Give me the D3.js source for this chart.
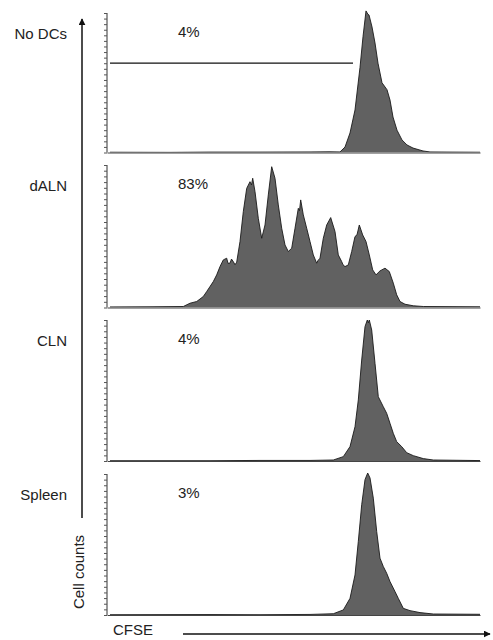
<!DOCTYPE html>
<html><head><meta charset="utf-8">
<script src="https://cdn.jsdelivr.net/npm/d3@7"></script>
<style>
html,body{margin:0;padding:0;background:#fff;}
text{font-family:"Liberation Sans",Arial,Helvetica,sans-serif;fill:#222;}
</style></head>
<body>
<svg id="c" width="493" height="640"></svg>
<script>
// ---------- DATA ----------
const samples = ["No DCs", "dALN", "CLN", "Spleen"];
const percents = ["4%", "83%", "4%", "3%"];
// CFSE channel (0-370) vs relative cell count (0-100)
const noDCs = [[0,0.2],[60,0.1],[100,0.3],[150,0.3],[200,0.4],[220,0.5],[230,0.4],[235,3.9],[240,14],[245,30.5],[250,61],[253,83],[256,101.5],[258,99],[259,98.6],[262,90],[265,78.5],[268,64],[272,50],[277,45],[280,37.6],[283,25.4],[287,16],[292,9],[297,5.4],[303,3.2],[313,1.1],[320,0.4],[340,0.3],[370,0.2]];
const dALN = [[0,0.4],[40,0.5],[73.3,0.7],[80,3.0],[86.7,4.2],[93.3,7.7],[96.7,11.2],[100,14.7],[103.3,18.2],[106.7,22.9],[110,28.7],[113.3,33.4],[116.7,34.6],[118,31],[120,31.1],[121.5,34],[123.3,32.2],[125,30],[126.7,31.8],[130,46.3],[133.3,67.3],[136.7,83.6],[140,88.3],[141.5,86],[142.7,90.7],[145,81.3],[148.3,62.6],[151.7,48.6],[155,57.9],[158.3,79],[161.7,98.8],[165,90.7],[168.3,72],[171.7,55.6],[175,43.9],[178.3,39.3],[181.7,41.6],[185,55.6],[188.3,69.6],[189.5,68],[190.7,75.5],[193.3,65],[196.7,55.6],[200,46.3],[203.3,36.9],[206.7,31.1],[208,33],[210,34.6],[213.3,48.6],[216.7,57.9],[220.7,63.1],[225,53.3],[228.3,36.9],[231.7,32.2],[233,30],[235,28.7],[238.3,29.9],[241.7,39.3],[245,49.8],[247,51],[249.3,57.9],[252.7,50.9],[256,46.3],[259.3,36.9],[262.7,26.4],[266,22.9],[270,25.7],[275,27.6],[279.3,25.2],[283.3,17.1],[286.7,8.9],[290,4.2],[295,2.3],[303.3,1.2],[313.3,0.7],[370,0.5]];
const cln = [[0,0.2],[100,0.2],[150,0.4],[200,0.4],[223.3,0.7],[233.3,3.1],[240,10.2],[245,24.3],[248.3,43.3],[251.7,71.6],[255,95.3],[257.3,100],[258.3,98],[259.3,100],[261.7,92.9],[265,69.3],[268.3,45.6],[273.3,38.5],[276.7,33.8],[280,26.7],[283.3,19.6],[286.7,13.7],[291.7,10.2],[296.7,5.9],[303.3,3.8],[313.3,1.7],[323.3,0.7],[370,0.3]];
const spleen = [[0,0.2],[100,0.3],[150,0.2],[200,0.4],[223.3,0.9],[233.3,3.6],[240,11.8],[245,28.4],[248.3,52.1],[251.7,78.2],[255,96],[257.7,100.7],[260,97.2],[263.3,82.9],[266.7,59.2],[270,40.3],[273.3,34.4],[276.7,29.6],[280,23.7],[285,16.6],[288.3,11.8],[293.3,4.7],[300,3.1],[310,1.7],[323.3,0.7],[370,0.5]];
const series = [noDCs, dALN, cln, spleen];
const gate = [0, 243];   // marker bar range on No DCs panel
const gateLevel = 64;
const yTickValues = d3.range(0, 101, 4);
const xAxisLabel = "CFSE";
const yAxisLabel = "Cell counts";

// ---------- LAYOUT ----------
const svg = d3.select("#c");
const panels = [{top:13,bottom:152.5},{top:165,bottom:307.5},{top:320,bottom:461},{top:474,bottom:615}];
const axisX = 107, plotL = 110, plotR = 480;
const x = d3.scaleLinear().domain([0,370]).range([plotL, plotR]);

svg.append("defs").append("marker")
  .attr("id","ah").attr("viewBox","0 0 10 10").attr("refX",9).attr("refY",5)
  .attr("markerWidth",7).attr("markerHeight",7).attr("orient","auto-start-reverse")
  .attr("markerUnits","userSpaceOnUse")
  .append("path").attr("d","M0,0 L10,5 L0,10 Z").attr("fill","#111");

panels.forEach((p, i) => {
  const y = d3.scaleLinear().domain([0,100]).range([p.bottom, p.top]);
  const g = svg.append("g");
  const clipId = "clip"+i;
  g.append("clipPath").attr("id", clipId).append("rect")
    .attr("x", axisX).attr("y", p.top - 3).attr("width", plotR - axisX + 2).attr("height", p.bottom - p.top + 3);
  const area = d3.area().x(d => x(d[0])).y0(y(0)).y1(d => y(d[1]));
  const line = d3.line().x(d => x(d[0])).y(d => y(d[1]));
  g.append("path").datum(series[i]).attr("d", area).attr("fill","#616161").attr("clip-path",`url(#${clipId})`);
  g.append("path").datum(series[i]).attr("d", line).attr("fill","none").attr("stroke","#1a1a1a").attr("stroke-width",0.9).attr("clip-path",`url(#${clipId})`);

  // y axis with minor ticks
  const ya = g.append("g").attr("transform",`translate(${axisX},0)`)
    .call(d3.axisLeft(y).tickValues(yTickValues).tickSize(3).tickFormat(""));
  ya.select(".domain").attr("stroke","#333").attr("d",`M0,${p.top}V${p.bottom}`);
  ya.selectAll(".tick line").attr("stroke","#555");

  // x axis baseline
  const xa = g.append("g").attr("transform",`translate(0,${p.bottom})`)
    .call(d3.axisBottom(d3.scaleLinear().domain([0,1]).range([axisX, plotR])).tickValues([]).tickSizeOuter(0));
  xa.select(".domain").attr("stroke","#444");

  // sample label and percent
  svg.append("text").attr("x", 67).attr("y", p.top + 22).attr("text-anchor","end")
    .attr("dominant-baseline","middle").attr("font-size", 15).text(samples[i]);
  svg.append("text").attr("x", 178).attr("y", p.top + 20).attr("dominant-baseline","middle")
    .attr("font-size", 15).text(percents[i]);

  if (i === 0) {
    g.append("line").attr("x1", x(gate[0])).attr("x2", x(gate[1]))
      .attr("y1", y(gateLevel)).attr("y2", y(gateLevel))
      .attr("stroke","#111").attr("stroke-width",1.2);
  }
});

// global axis arrows
svg.append("line").attr("x1",82).attr("x2",82).attr("y1",518).attr("y2",19)
  .attr("stroke","#111").attr("stroke-width",1.5).attr("marker-end","url(#ah)");
svg.append("line").attr("x1",183).attr("x2",490).attr("y1",634).attr("y2",634)
  .attr("stroke","#111").attr("stroke-width",1.3).attr("marker-end","url(#ah)");

svg.append("text").attr("transform","translate(84,572) rotate(-90)")
  .attr("text-anchor","middle").attr("font-size",15).text(yAxisLabel);
svg.append("text").attr("x",113).attr("y",635).attr("font-size",15).text(xAxisLabel);
</script>
</body></html>
